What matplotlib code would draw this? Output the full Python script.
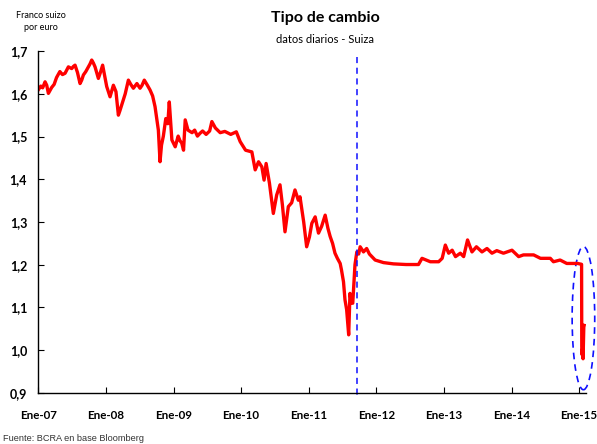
import pandas as pd
import numpy as np
import matplotlib
matplotlib.use('Agg')
import matplotlib.pyplot as plt
import matplotlib.dates as mdates
from matplotlib.patches import Ellipse

# EUR/CHF
fechas = ['2007-01-01', '2007-01-15', '2007-01-25', '2007-02-07', '2007-02-16', '2007-02-25',
          '2007-03-15', '2007-03-28', '2007-04-10', '2007-04-28', '2007-05-12', '2007-05-26',
          '2007-06-13', '2007-07-01', '2007-07-10', '2007-07-19', '2007-08-01', '2007-08-15',
          '2007-08-24', '2007-09-02', '2007-09-15', '2007-09-29', '2007-10-08', '2007-10-17',
          '2007-10-26', '2007-11-04', '2007-11-22', '2007-12-03', '2007-12-15', '2008-01-06',
          '2008-01-24', '2008-02-11', '2008-02-25', '2008-03-09', '2008-03-17', '2008-03-27',
          '2008-04-15', '2008-05-02', '2008-05-15', '2008-05-29', '2008-06-17', '2008-07-04',
          '2008-07-15', '2008-07-27', '2008-08-10', '2008-08-27', '2008-09-10', '2008-09-23',
          '2008-10-11', '2008-10-20', '2008-10-28', '2008-11-07', '2008-11-20', '2008-12-01',
          '2008-12-09', '2008-12-23', '2009-01-10', '2009-01-26', '2009-02-05', '2009-02-14',
          '2009-02-24', '2009-03-05', '2009-03-20', '2009-04-11', '2009-04-25', '2009-05-10',
          '2009-05-25', '2009-06-07', '2009-06-26', '2009-07-15', '2009-07-27', '2009-08-15',
          '2009-09-10', '2009-10-05', '2009-11-06', '2009-12-06', '2009-12-27', '2010-01-25',
          '2010-02-28', '2010-03-18', '2010-04-05', '2010-04-23', '2010-05-05', '2010-05-16',
          '2010-06-03', '2010-06-24', '2010-07-12', '2010-07-30', '2010-08-12', '2010-08-26',
          '2010-09-13', '2010-10-01', '2010-10-19', '2010-11-06', '2010-11-15', '2010-12-05',
          '2010-12-21', '2011-01-05', '2011-01-18', '2011-02-05', '2011-02-23', '2011-03-12',
          '2011-03-31', '2011-04-15', '2011-04-27', '2011-05-10', '2011-05-23', '2011-06-05',
          '2011-06-20', '2011-06-27', '2011-07-08', '2011-07-16', '2011-07-25', '2011-08-05',
          '2011-08-12', '2011-08-20', '2011-08-27', '2011-09-08', '2011-09-18', '2011-09-28',
          '2011-10-06', '2011-10-24', '2011-11-10', '2011-11-25', '2011-12-26', '2012-02-09',
          '2012-04-03', '2012-06-10', '2012-08-16', '2012-09-04', '2012-10-19', '2012-12-03',
          '2012-12-22', '2013-01-08', '2013-01-26', '2013-02-14', '2013-03-04', '2013-03-30',
          '2013-04-17', '2013-05-08', '2013-06-01', '2013-06-25', '2013-07-25', '2013-08-21',
          '2013-09-17', '2013-10-13', '2013-11-18', '2014-01-03', '2014-02-08', '2014-03-06',
          '2014-04-30', '2014-06-06', '2014-07-29', '2014-08-15', '2014-09-20', '2014-10-26',
          '2014-12-24', '2015-01-14', '2015-01-15', '2015-01-16', '2015-01-19', '2015-01-22',
          '2015-01-26', '2015-01-28']
chf = [1.609, 1.618, 1.614, 1.628, 1.620, 1.601,
       1.615, 1.622, 1.638, 1.652, 1.645, 1.648,
       1.663, 1.659, 1.664, 1.667, 1.650, 1.624,
       1.632, 1.644, 1.652, 1.663, 1.670, 1.679,
       1.672, 1.663, 1.636, 1.650, 1.667, 1.617,
       1.593, 1.620, 1.605, 1.550, 1.560, 1.574,
       1.600, 1.632, 1.622, 1.613, 1.624, 1.613,
       1.620, 1.632, 1.622, 1.609, 1.595, 1.570,
       1.515, 1.441, 1.480, 1.501, 1.542, 1.530,
       1.581, 1.492, 1.476, 1.501, 1.490, 1.485,
       1.468, 1.539, 1.515, 1.509, 1.515, 1.501,
       1.508, 1.513, 1.505, 1.513, 1.535, 1.520,
       1.509, 1.512, 1.505, 1.511, 1.488, 1.468,
       1.464, 1.422, 1.441, 1.429, 1.398, 1.437,
       1.391, 1.320, 1.363, 1.387, 1.340, 1.277,
       1.336, 1.345, 1.375, 1.351, 1.359, 1.300,
       1.242, 1.265, 1.297, 1.312, 1.274, 1.290,
       1.316, 1.285, 1.266, 1.250, 1.227, 1.215,
       1.203, 1.188, 1.160, 1.118, 1.095, 1.036,
       1.133, 1.110, 1.110, 1.200, 1.230, 1.225,
       1.242, 1.230, 1.238, 1.225, 1.211, 1.205,
       1.202, 1.2005, 1.2005, 1.215, 1.207, 1.207,
       1.215, 1.246, 1.227, 1.234, 1.219, 1.227,
       1.219, 1.258, 1.230, 1.242, 1.230, 1.238,
       1.227, 1.233, 1.227, 1.234, 1.219, 1.223,
       1.223, 1.215, 1.215, 1.207, 1.211, 1.203,
       1.203, 1.201, 1.010, 0.990, 1.003, 0.980,
       1.054, 1.058]

anios = ['2007', '2008', '2009', '2010', '2011', '2012', '2013', '2014', '2015']
etiquetas_x = ['Ene-07', 'Ene-08', 'Ene-09', 'Ene-10', 'Ene-11', 'Ene-12', 'Ene-13', 'Ene-14', 'Ene-15']
yticks = [0.9, 1.0, 1.1, 1.2, 1.3, 1.4, 1.5, 1.6, 1.7]

piso = '2011-09-18'   # dashed line: SNB floor at 1.20
fin_piso = '2015-01-24'  # centre of the ellipse

fechas = pd.to_datetime(fechas)

fig = plt.figure(figsize=(5.97, 4.44), dpi=100)
ax = fig.add_axes([0.064, 0.115, 0.917, 0.770])

ax.plot(fechas, chf, color='#ff0000', linewidth=2.4, solid_joinstyle='round')

xp = pd.Timestamp(piso)
ax.plot([xp, xp], [1.685, 0.885], color='#1010ff', linewidth=1.1,
        linestyle=(0, (4, 3)), clip_on=False)

xc = mdates.date2num(pd.Timestamp(fin_piso))
ax.add_patch(Ellipse((xc, 1.075), width=122, height=0.335, fill=False,
                     edgecolor='#1010ff', linewidth=1.2, linestyle=(0, (4, 3)),
                     clip_on=False))

ax.set_ylim(0.9, 1.7)
ax.set_xlim(pd.Timestamp('2007-01-01'), pd.Timestamp('2015-02-05'))
ax.set_yticks(yticks)
ax.set_yticklabels([f'{v:.1f}'.replace('.', ',') for v in yticks])
ax.set_xticks(pd.to_datetime([a + '-01-01' for a in anios]))
ax.set_xticklabels(etiquetas_x)

for s in ['top', 'right']:
    ax.spines[s].set_visible(False)
for s in ['left', 'bottom']:
    ax.spines[s].set_linewidth(1.0)
ax.tick_params(axis='y', direction='in', length=4, pad=8, labelsize=9)
ax.tick_params(axis='x', direction='in', length=4, pad=12, labelsize=8.4)
for lab in ax.get_xticklabels() + ax.get_yticklabels():
    lab.set_fontweight('bold')
    lab.set_family('Lato')

fig.text(0.545, 0.96, 'Tipo de cambio', ha='center', va='center',
         fontsize=11.5, fontweight='bold', family='Lato')
fig.text(0.545, 0.91, 'datos diarios - Suiza', ha='center', va='center',
         fontsize=8, family='Lato')
fig.text(0.068, 0.966, 'Franco suizo', ha='center', va='center', fontsize=6.5, family='Lato')
fig.text(0.068, 0.938, 'por euro', ha='center', va='center', fontsize=6.5, family='Lato')
fig.text(0.005, 0.012, 'Fuente: BCRA en base Bloomberg', ha='left', va='center',
         fontsize=6.6, family='Liberation Sans', color='#333333')
fig.text(0.01, 0.993, 'Gráfico 7', ha='left', va='bottom', fontsize=11,
         fontweight='bold', family='Lato')

fig.savefig('out.png', dpi=100)
